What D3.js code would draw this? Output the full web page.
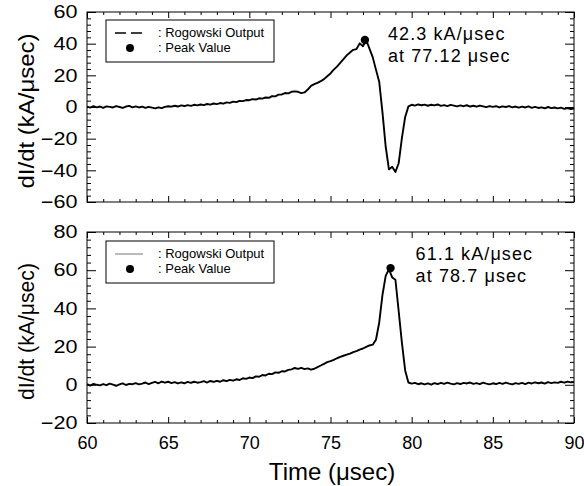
<!DOCTYPE html>
<html>
<head>
<meta charset="utf-8">
<script src="https://cdn.jsdelivr.net/npm/d3@7"></script>
<style>
  body { margin: 0; background: #fff; }
  svg { display: block; font-family: "Liberation Sans", Arial, sans-serif; }
</style>
</head>
<body>
<div id="chart"></div>
<script>
// sampling of the scope traces (usec)
const t0 = 60, dt = 0.2;

// upper trace, kA/usec, one row per usec
const topValues = [
  0.2, -0.4, 0.5, -0.2, 0.3,
  -0.5, 0.4, 0.1, -0.3, 0.6,
  0.0, -0.6, 0.3, 0.7, -0.2,
  0.4, -0.3, 0.2, -0.5, 0.1,
  -0.4, -0.9, -0.2, -0.7, 0.1,
  0.5, 0.2, 0.8, 0.3, 1.0,
  0.6, 1.2, 0.7, 1.4, 1.0,
  1.6, 1.2, 1.9, 1.5, 2.2,
  1.8, 2.5, 2.1, 2.9, 2.6,
  3.4, 3.1, 3.9, 3.7, 4.4,
  4.3, 5.0, 4.7, 5.5, 5.3,
  6.0, 5.8, 6.9, 6.7, 7.8,
  7.9, 8.8, 8.6, 9.6, 9.9,
  9.6, 8.8, 9.2, 11.0, 13.4,
  14.4, 15.2, 16.3, 17.6, 19.4,
  21.2, 23.6, 25.5, 27.8, 30.2,
  32.6, 34.4, 36.1, 36.6, 40.2,
  38.4, 42.3, 36.9, 31.5, 23.6,
  16.0, -3.2, -25.0, -39.4, -37.8,
  -41.0, -35.5, -19.5, -6.3, 0.4,
  1.4, 0.9, 1.6, 1.1, 1.5,
  0.8, 1.4, 1.0, 1.6, 0.7,
  1.2, 0.6, 1.3, 0.9, 0.4,
  1.0, 0.5, 1.1, 0.3, 0.8,
  0.2, 0.9, 0.4, -0.1, 0.6,
  0.1, 0.5, -0.3, 0.4, 0.0,
  0.6, -0.2, 0.3, -0.4, 0.2,
  -0.3, 0.4, -0.5, 0.1, -0.6,
  -0.2, -0.8, 0.0, -0.7, -0.3,
  -0.9, -0.4, -1.2, -0.7, -1.3,
  -1.0
];

// lower trace
const bottomValues = [
  0.3, -0.4, 0.5, 0.0, -0.3,
  0.4, -0.2, 0.6, 0.1, -0.5,
  0.2, 0.7, -0.1, 0.5, 0.3,
  0.9, 0.2, 0.6, 1.2, 0.4,
  1.0, 1.5, 0.8, 1.7, 1.1,
  1.6, 0.9, 1.4, 0.7, 1.3,
  0.8, 1.5, 1.0, 1.6, 1.1,
  1.4, 1.9, 1.2, 2.0, 1.5,
  2.1, 1.6, 2.4, 1.9, 2.6,
  2.2, 2.9, 2.5, 3.4, 3.1,
  3.8, 3.5, 4.4, 4.2, 5.1,
  4.9, 5.8, 5.6, 6.5, 6.3,
  7.1, 7.0, 7.8, 8.1, 8.8,
  8.3, 8.9, 8.2, 8.6, 7.9,
  8.4, 9.3, 10.1, 11.0, 11.9,
  12.4, 13.1, 13.9, 14.6, 15.2,
  15.8, 16.3, 17.1, 17.6, 18.4,
  19.0, 19.8, 20.6, 21.0, 23.6,
  32.5, 47.0, 57.0, 60.5, 56.2,
  55.0, 38.5, 22.0, 7.5, 1.2,
  0.6, 1.0, 0.3, 0.8, 0.2,
  0.7, 0.1, 0.9, 0.4, 1.0,
  0.5, 1.1, 0.6, 0.2, 0.9,
  0.4, 1.0, 0.7, 1.2, 0.5,
  0.9, 0.3, 1.1, 0.6, 0.2,
  0.8, 0.4, 1.0, 0.5, 1.1,
  0.6, 0.2, 0.9, 0.5, 1.0,
  0.4, 1.1, 0.7, 1.3, 0.8,
  1.2, 0.6, 1.4, 0.9, 1.3,
  1.0, 1.6, 1.1, 1.7, 1.3,
  1.5
];

const peakTimes = [77.12, 78.7];
const peakValues = [42.3, 61.1];
const peakLabels = [
  ["42.3 kA/\u03bcsec", "at 77.12 \u03bcsec"],
  ["61.1 kA/\u03bcsec", "at 78.7 \u03bcsec"]
];
const xDomain = [60, 90];
const xTicks = [60, 65, 70, 75, 80, 85, 90];
const yDomains = [[-60, 60], [-20, 80]];
const yTicks = [[-60, -40, -20, 0, 20, 40, 60], [-20, 0, 20, 40, 60, 80]];
const legendLabels = [": Rogowski Output", ": Peak Value"];
const yTitle = "dI/dt (kA/\u03bcsec)";
const xTitle = "Time (\u03bcsec)";

(function () {
  const width = 584, height = 486;
  const left = 87, right = 574;
  const panels = [
    { top: 12, bottom: 202, values: topValues, dashed: true, titleLen: 155, legendY: 20 },
    { top: 232, bottom: 423, values: bottomValues, dashed: false, titleLen: 137, legendY: 241 }
  ];

  const svg = d3.select("#chart").append("svg")
    .attr("width", width).attr("height", height);

  const x = d3.scaleLinear().domain(xDomain).range([left, right]);
  const xMinor = d3.range(xDomain[0], xDomain[1] + 0.5, 1).filter(v => v % 5 !== 0);

  function styleAxis(g) {
    g.select(".domain").remove();
    g.selectAll("line").attr("stroke", "#000");
    g.selectAll("text").attr("fill", "#000");
  }

  panels.forEach((p, i) => {
    const y = d3.scaleLinear().domain(yDomains[i]).range([p.bottom, p.top]);
    const yMinor = d3.range(yDomains[i][0], yDomains[i][1] + 0.5, 4)
      .filter(v => v % 20 !== 0);
    const g = svg.append("g");

    // frame
    g.append("rect")
      .attr("x", left).attr("y", p.top)
      .attr("width", right - left).attr("height", p.bottom - p.top)
      .attr("fill", "none").attr("stroke", "#000").attr("stroke-width", 1);

    // left axis, ticks inward
    g.append("g").attr("transform", `translate(${left},0)`)
      .call(d3.axisLeft(y).tickValues(yTicks[i]).tickSize(-9).tickPadding(8))
      .call(styleAxis)
      .call(a => a.selectAll("text")
        .attr("font-size", 18)
        .attr("transform", "scale(1.2,1)"));
    g.append("g").attr("transform", `translate(${left},0)`)
      .call(d3.axisLeft(y).tickValues(yMinor).tickSize(-4).tickFormat(""))
      .call(styleAxis);

    // right axis
    g.append("g").attr("transform", `translate(${right},0)`)
      .call(d3.axisRight(y).tickValues(yTicks[i]).tickSize(-9).tickFormat(""))
      .call(styleAxis);
    g.append("g").attr("transform", `translate(${right},0)`)
      .call(d3.axisRight(y).tickValues(yMinor).tickSize(-4).tickFormat(""))
      .call(styleAxis);

    // bottom axis, labels only on lower panel
    const bottomAxis = d3.axisBottom(x).tickValues(xTicks).tickSize(-6).tickPadding(13);
    if (i === 0) bottomAxis.tickFormat("");
    g.append("g").attr("transform", `translate(0,${p.bottom})`)
      .call(bottomAxis)
      .call(styleAxis)
      .call(a => a.selectAll("text").attr("font-size", 18));
    g.append("g").attr("transform", `translate(0,${p.bottom})`)
      .call(d3.axisBottom(x).tickValues(xMinor).tickSize(-3).tickFormat(""))
      .call(styleAxis);

    // top axis
    g.append("g").attr("transform", `translate(0,${p.top})`)
      .call(d3.axisTop(x).tickValues(xTicks).tickSize(-6).tickFormat(""))
      .call(styleAxis);
    g.append("g").attr("transform", `translate(0,${p.top})`)
      .call(d3.axisTop(x).tickValues(xMinor).tickSize(-3).tickFormat(""))
      .call(styleAxis);

    // trace
    const line = d3.line()
      .x((d, k) => x(t0 + k * dt))
      .y(d => y(d));
    g.append("path")
      .datum(p.values)
      .attr("d", line)
      .attr("fill", "none")
      .attr("stroke", "#000")
      .attr("stroke-width", 1.9)
      .attr("stroke-linejoin", "round");

    // peak marker
    g.append("circle")
      .attr("cx", x(peakTimes[i])).attr("cy", y(peakValues[i]))
      .attr("r", 4.2).attr("fill", "#000");

    // peak annotation
    const ax = x(peakTimes[i]) + (i === 0 ? 23 : 25);
    const ay = p.top + 28;
    peakLabels[i].forEach((s, k) => {
      g.append("text")
        .attr("x", ax).attr("y", ay + k * 22)
        .attr("font-size", 18)
        .attr("letter-spacing", 1.1)
        .text(s);
    });

    // legend
    const lx = 106, ly = p.legendY;
    g.append("rect")
      .attr("x", lx).attr("y", ly).attr("width", 168).attr("height", 42)
      .attr("fill", "#fff").attr("stroke", "#000").attr("stroke-width", 1);
    g.append("line")
      .attr("x1", lx + 9).attr("x2", lx + 37)
      .attr("y1", ly + 13).attr("y2", ly + 13)
      .attr("stroke", p.dashed ? "#000" : "#777")
      .attr("stroke-width", p.dashed ? 1.3 : 1)
      .attr("stroke-dasharray", p.dashed ? "11,5" : null);
    g.append("circle")
      .attr("cx", lx + 24).attr("cy", ly + 28).attr("r", 4).attr("fill", "#000");
    legendLabels.forEach((s, k) => {
      g.append("text")
        .attr("x", lx + 52).attr("y", ly + 17 + k * 15)
        .attr("font-size", 13)
        .text(s);
    });

    // y title
    g.append("text")
      .attr("transform", `translate(34,${(p.top + p.bottom) / 2 + 4}) rotate(-90)`)
      .attr("text-anchor", "middle")
      .attr("font-size", 22)
      .attr("textLength", p.titleLen)
      .attr("lengthAdjust", "spacingAndGlyphs")
      .text(yTitle);
  });

  // x title
  svg.append("text")
    .attr("x", 332).attr("y", 480)
    .attr("text-anchor", "middle")
    .attr("font-size", 24)
    .text(xTitle);
})();
</script>
</body>
</html>
